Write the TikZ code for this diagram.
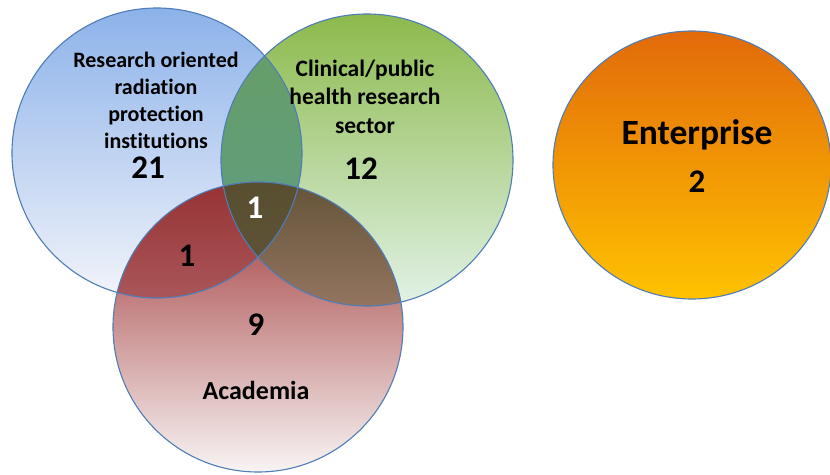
\documentclass[tikz,border=0pt]{standalone}
\usepackage{fontspec}
\setmainfont{Carlito}[RawFeature={-liga;-clig}]
\begin{document}
\begin{tikzpicture}[x=1pt,y=-1pt,
  rim/.style={draw=rimcol, line width=1.1pt},
  lbl/.style={font=\fontsize{22}{27}\selectfont\bfseries, align=center, inner sep=0pt},
  num/.style={font=\fontsize{33}{34}\selectfont\bfseries, inner sep=0pt}]
\definecolor{rimcol}{HTML}{4F7DB8}
\useasboundingbox (0,0) rectangle (830,474);
\def\blue{(157,153) circle (145)}
\def\green{(367,160) circle (146)}
\def\red{(258,327) circle (145)}
% single circles
\shade[top color={rgb,255:red,140;green,178;blue,234}, bottom color={rgb,255:red,242;green,244;blue,250}] \blue;
\shade[top color={rgb,255:red,140;green,186;blue,76}, bottom color={rgb,255:red,226;green,242;blue,232}] \green;
\shade[top color={rgb,255:red,158;green,50;blue,50}, bottom color={rgb,255:red,248;green,244;blue,244}] \red;
% blue & green
\begin{scope}
  \clip \blue;
  \shade[top color={rgb,255:red,104;green,158;blue,100}, bottom color={rgb,255:red,92;green,156;blue,136}] \green;
\end{scope}
% red & blue
\begin{scope}
  \clip \blue;
  \shade[top color={rgb,255:red,150;green,50;blue,52}, bottom color={rgb,255:red,200;green,140;blue,145}] \red;
\end{scope}
% red & green
\begin{scope}
  \clip \green;
  \shade[top color={rgb,255:red,100;green,84;blue,56}, bottom color={rgb,255:red,210;green,160;blue,150}] \red;
\end{scope}
% triple
\begin{scope}
  \clip \blue;
  \clip \green;
  \shade[top color={rgb,255:red,88;green,78;blue,48}, bottom color={rgb,255:red,110;green,96;blue,70}] \red;
\end{scope}
% rims
\draw[rim] \blue;
\draw[rim] \green;
\draw[rim] \red;
% enterprise
\shade[top color={rgb,255:red,226;green,106;blue,10}, bottom color={rgb,255:red,255;green,194;blue,0}, draw=rimcol, line width=1.1pt] (692,165) ellipse [x radius=139, y radius=134];
% labels
\node[lbl] (rlab) at (156,100.5) {Research oriented\\radiation\\protection\\institutions};
\node[num] (r21) at (148,168) {21};
\node[lbl, font=\fontsize{23.5}{28.5}\selectfont\bfseries] (clab) at (365,96.5) {Clinical/public\\health research\\sector};
\node[num] (c12) at (361,169) {12};
\node[num, text=white] (t1) at (255,208) {1};
\node[num] (rb1) at (187,256) {1};
\node[num] (a9) at (256,325) {9};
\node[lbl, font=\fontsize{26}{28}\selectfont\bfseries] (alab) at (256,390) {Academia};
\node[lbl, font=\fontsize{35.5}{38}\selectfont\bfseries] (elab) at (697,135) {Enterprise};
\node[num] (e2) at (697,182) {2};
\end{tikzpicture}
\end{document}
